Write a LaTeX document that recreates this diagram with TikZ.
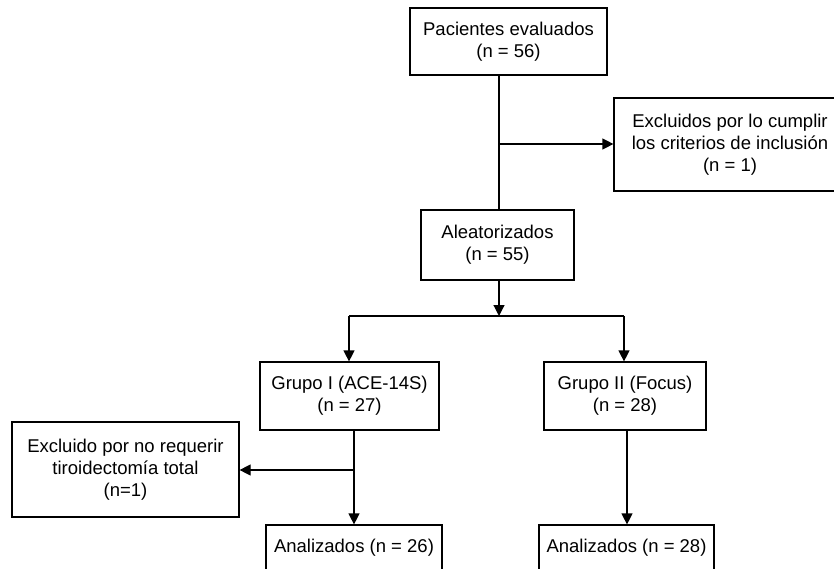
\documentclass[tikz,border=0pt]{standalone}
\usepackage{fontspec}
\setmainfont{Liberation Sans}
\usetikzlibrary{arrows.meta}
\begin{document}
\begin{tikzpicture}[x=1pt,y=-1pt,
  box/.style={draw, line width=1.2pt, inner sep=0pt, align=center,
    font=\fontsize{18.5}{22}\selectfont},
  conn/.style={line width=1.2pt},
  arr/.style={conn, -{Triangle[length=11pt,width=11pt]}}]
\useasboundingbox (0,0) rectangle (834,569);
\clip (0,0) rectangle (834,569);
\node[box, minimum width=197pt, minimum height=67pt] (pac) at (508.5,41.5) {Pacientes evaluados\\(n = 56)};
\node[box, minimum width=232pt, minimum height=93pt] (exc1) at (730,144.5) {Excluidos por lo cumplir\\los criterios de inclusión\\(n = 1)};
\node[box, minimum width=153pt, minimum height=70pt] (ale) at (497.5,245) {Aleatorizados\\(n = 55)};
\node[box, minimum width=179pt, minimum height=68pt] (g1) at (349.5,396) {Grupo I (ACE-14S)\\(n = 27)};
\node[box, minimum width=162pt, minimum height=68pt] (g2) at (625,396) {Grupo II (Focus)\\(n = 28)};
\node[box, minimum width=227pt, minimum height=95pt] (exc2) at (125.5,469.5) {Excluido por no requerir\\tiroidectomía total\\(n=1)};
\node[box, minimum width=176pt, minimum height=46pt] (an1) at (354,548) {Analizados (n = 26)};
\node[box, minimum width=175pt, minimum height=46pt] (an2) at (626.5,548) {Analizados (n = 28)};
% connectors
\coordinate (p1) at (499,144);
\draw[conn] (pac.south -| p1) -- (ale.north -| p1);
\draw[arr] (p1) -- (exc1.west |- p1);
\coordinate (s) at (499,316);
\draw[arr] (ale.south -| s) -- (s);
\coordinate (l) at (349,316);
\coordinate (r) at (624,316);
\draw[conn] (l) -- (r);
\draw[arr] (l) -- (g1.north -| l);
\draw[arr] (r) -- (g2.north -| r);
\coordinate (b1) at (354,470);
\draw[arr] (g1.south -| b1) -- (an1.north -| b1);
\draw[arr] (b1) -- (exc2.east |- b1);
\coordinate (b2) at (627,470);
\draw[arr] (g2.south -| b2) -- (an2.north -| b2);
\end{tikzpicture}
\end{document}
